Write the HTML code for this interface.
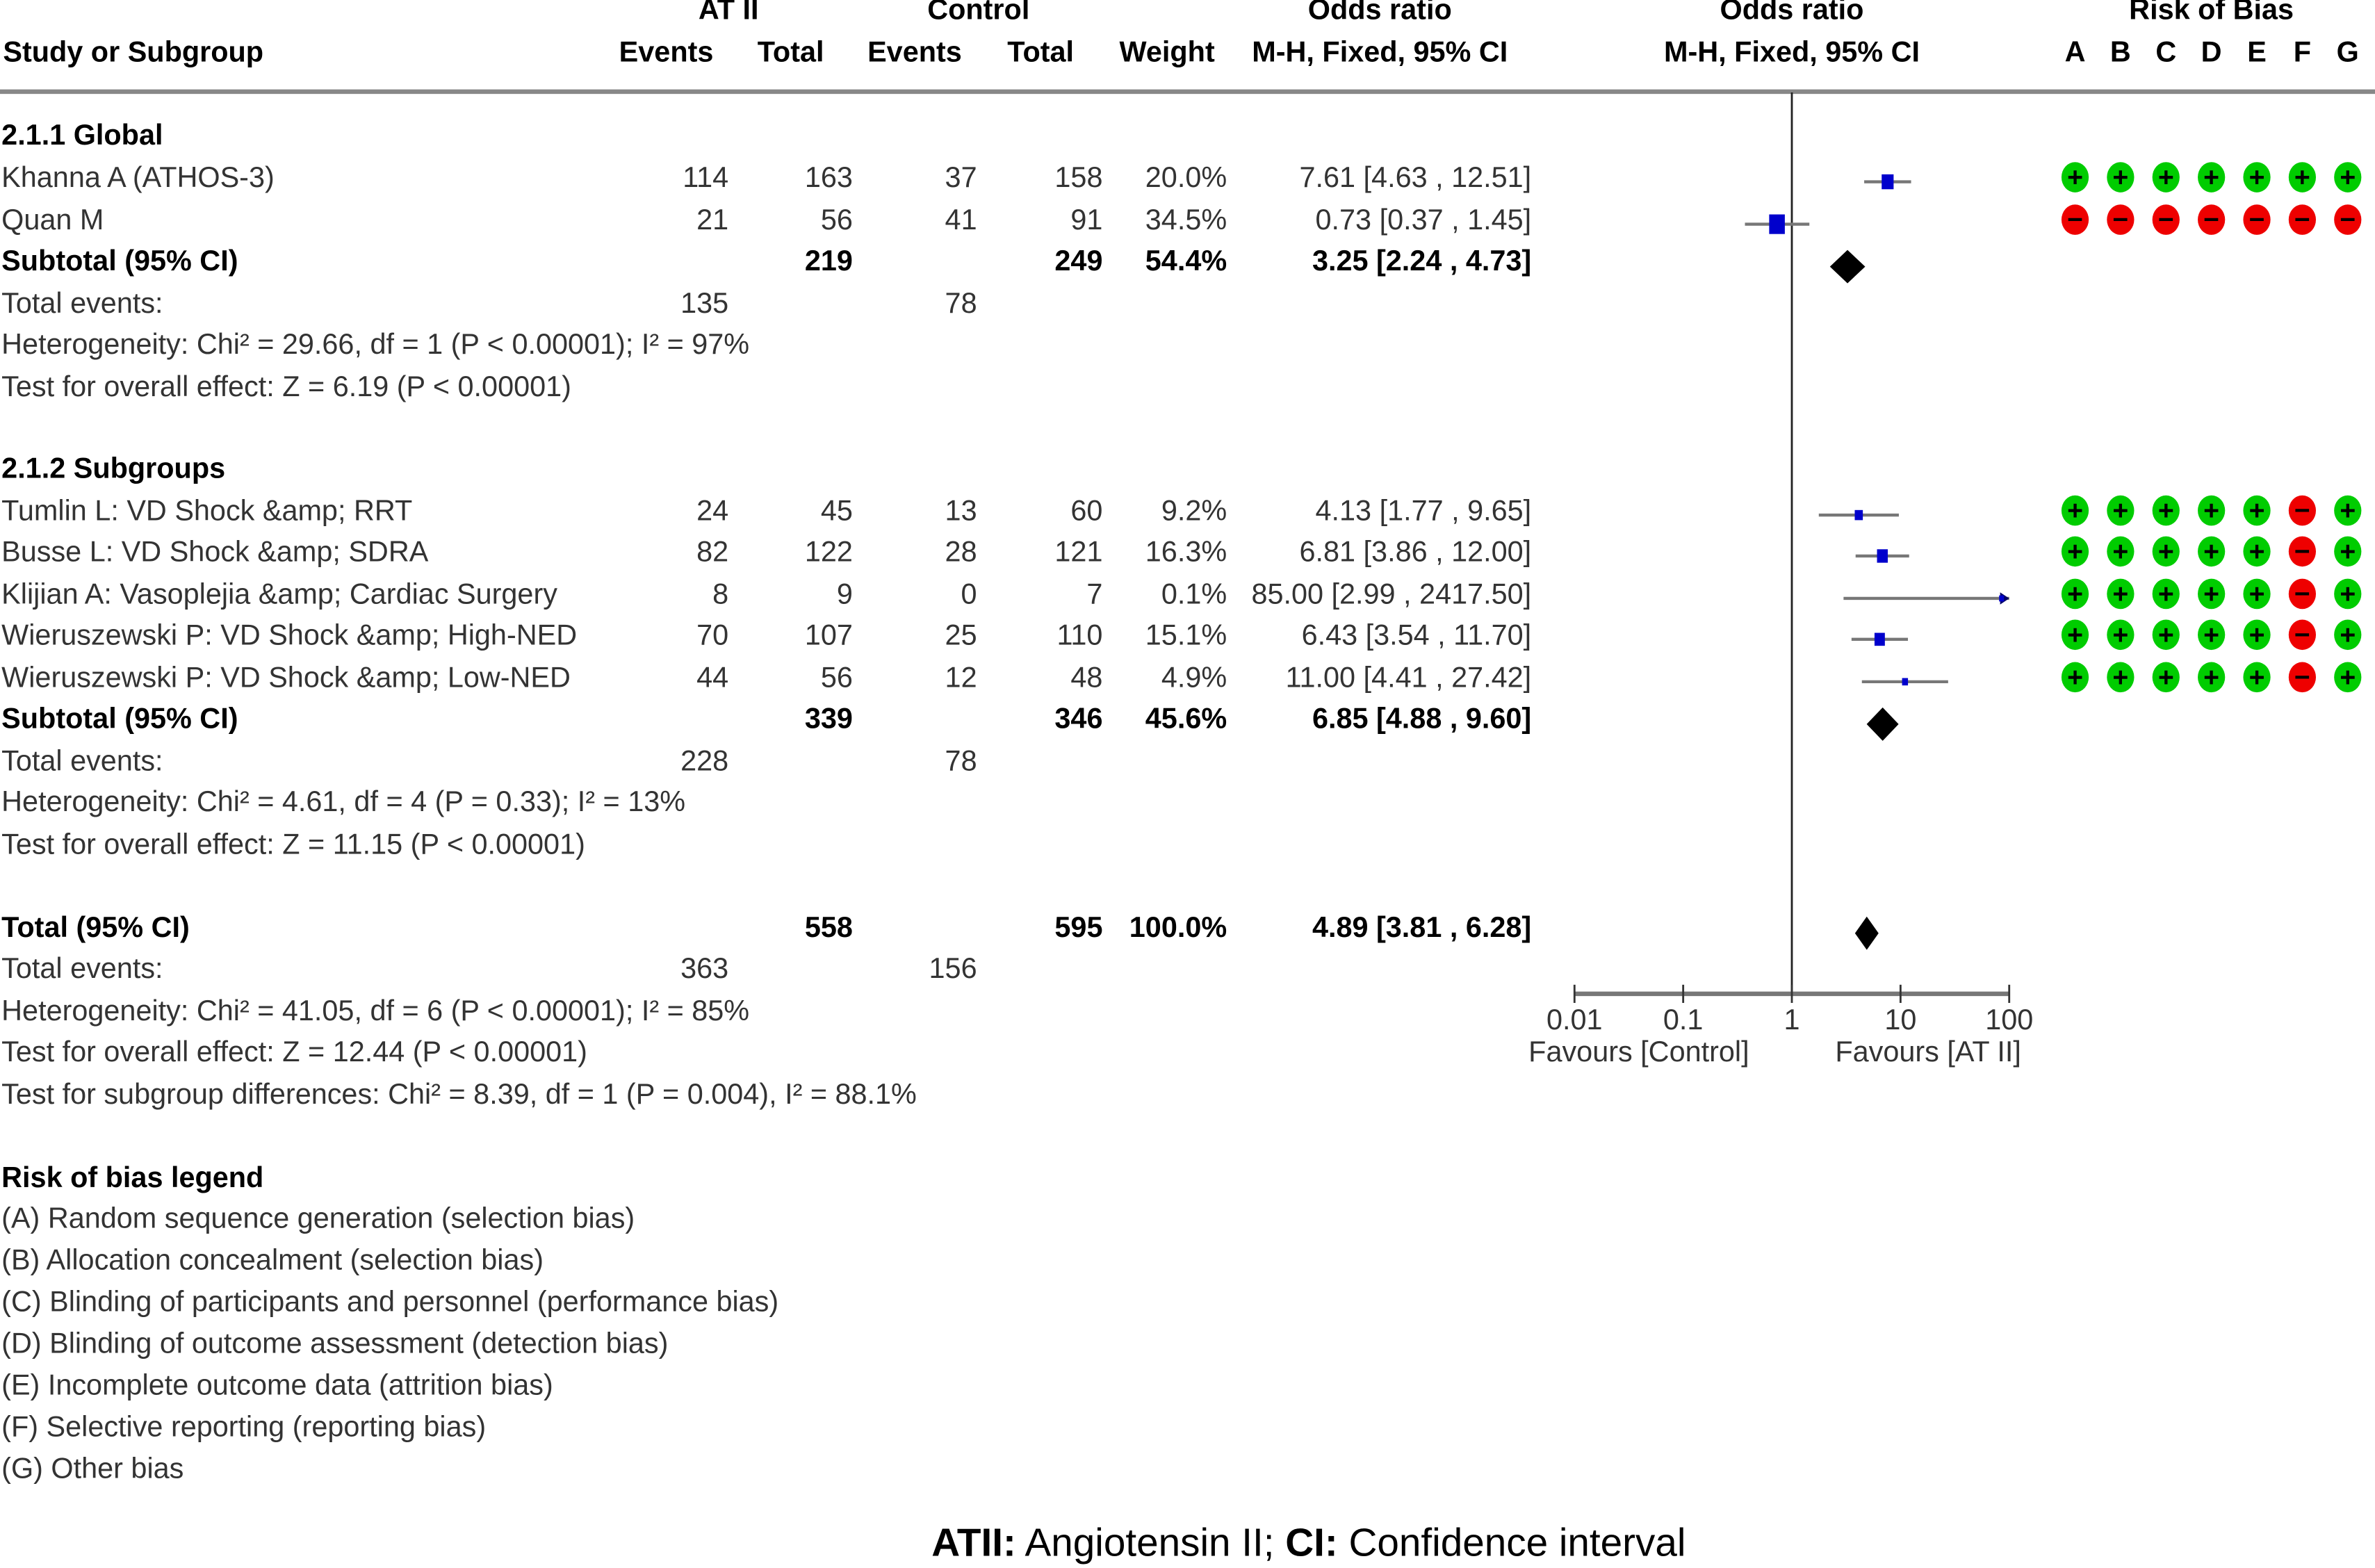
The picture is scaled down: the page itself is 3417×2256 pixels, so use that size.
<!DOCTYPE html>
<html><head><meta charset="utf-8"><style>
html,body{margin:0;padding:0;background:#fff;}
svg{display:block;}
text{font-family:"Liberation Sans",Arial,sans-serif;}
</style></head><body>
<svg id="chart" width="3417" height="2256" viewBox="0 0 1568 1035" preserveAspectRatio="none" xmlns="http://www.w3.org/2000/svg">
<g id="g"></g>
</svg>
<script>
// ---- data ----
const studies = ["Khanna A (ATHOS-3)","Quan M","Tumlin L: VD Shock &amp;amp; RRT","Busse L: VD Shock &amp;amp; SDRA","Klijian A: Vasoplejia &amp;amp; Cardiac Surgery","Wieruszewski P: VD Shock &amp;amp; High-NED","Wieruszewski P: VD Shock &amp;amp; Low-NED"];
const studyRowY = [117,145,337,364,392,419,447];
const atEvents = [114,21,24,82,8,70,44];
const atTotal = [163,56,45,122,9,107,56];
const ctEvents = [37,41,13,28,0,25,12];
const ctTotal = [158,91,60,121,7,110,48];
const weights = [20.0,34.5,9.2,16.3,0.1,15.1,4.9];
const orVal = [7.61,0.73,4.13,6.81,85.00,6.43,11.00];
const orLo = [4.63,0.37,1.77,3.86,2.99,3.54,4.41];
const orHi = [12.51,1.45,9.65,12.00,2417.50,11.70,27.42];
const orLabels = ["7.61 [4.63 , 12.51]","0.73 [0.37 , 1.45]","4.13 [1.77 , 9.65]","6.81 [3.86 , 12.00]","85.00 [2.99 , 2417.50]","6.43 [3.54 , 11.70]","11.00 [4.41 , 27.42]"];
const rob = ["+++++++","-------","+++++-+","+++++-+","+++++-+","+++++-+","+++++-+"];
const pooledNames = ["Subtotal (95% CI)","Subtotal (95% CI)","Total (95% CI)"];
const pooledY = [172,474,612];
const pooledAtTotal = [219,339,558];
const pooledCtTotal = [249,346,595];
const pooledWeight = ["54.4%","45.6%","100.0%"];
const pooledOR = [3.25,6.85,4.89];
const pooledLo = [2.24,4.88,3.81];
const pooledHi = [4.73,9.60,6.28];
const pooledLabels = ["3.25 [2.24 , 4.73]","6.85 [4.88 , 9.60]","4.89 [3.81 , 6.28]"];
const tickVals = [0.01,0.1,1,10,100];
const tickLabels = ["0.01","0.1","1","10","100"];

// ---- axis ----
const X0=1183, DEC=71.75, AXY=656;
const xs = v => X0 + Math.log10(v)*DEC;
const XMIN = xs(0.01), XMAX = xs(100);

const g = document.getElementById('g');
const NS='http://www.w3.org/2000/svg';
function el(tag, attrs, txt){
  const e=document.createElementNS(NS,tag);
  for(const k in attrs) e.setAttribute(k,attrs[k]);
  if(txt!==undefined) e.innerHTML=txt;
  g.appendChild(e); return e;
}
function T(x,y,s,opt){
  opt=opt||{};
  const e=el('text',{x:x,y:y+6.5,'font-size':opt.fs||19,fill:opt.bold?'#000':'#333','font-weight':opt.bold?'bold':'normal','text-anchor':opt.anchor||'start'},s);
  
  
  return e;
}
// headers
T(481,6,"AT II",{bold:1,anchor:'middle',name:'header-at-ii'});
T(646,6,"Control",{bold:1,anchor:'middle',name:'header-control'});
T(911,6,"Odds ratio",{bold:1,anchor:'middle',name:'header-odds-ratio'});
T(1183,6,"Odds ratio",{bold:1,anchor:'middle',name:'header-odds-ratio-plot'});
T(1460,6,"Risk of Bias",{bold:1,anchor:'middle',name:'header-risk-of-bias'});
T(2,34,"Study or Subgroup",{bold:1,name:'header-study'});
T(471,34,"Events",{bold:1,anchor:'end',name:'header-events'});
T(544,34,"Total",{bold:1,anchor:'end',name:'header-total'});
T(635,34,"Events",{bold:1,anchor:'end',name:'header-events'});
T(709,34,"Total",{bold:1,anchor:'end',name:'header-total'});
T(802,34,"Weight",{bold:1,anchor:'end',name:'header-weight'});
T(911,34,"M-H, Fixed, 95% CI",{bold:1,anchor:'middle',name:'header-method'});
T(1183,34,"M-H, Fixed, 95% CI",{bold:1,anchor:'middle',name:'header-method-plot'});
const robX=[1370,1400,1430,1460,1490,1520,1550];
"ABCDEFG".split('').forEach((c,i)=>T(robX[i],34,c,{bold:1,anchor:'middle',name:'rob-column-'+c.toLowerCase()}));
let hl=el('rect',{x:0,y:59,width:1568,height:3,fill:'#888'});



let vl=el('line',{x1:X0,y1:61,x2:X0,y2:AXY,stroke:'#222','stroke-width':1.3});



T(1,89,"2.1.1 Global",{bold:1,name:'subgroup-global'});
T(1,309,"2.1.2 Subgroups",{bold:1,name:'subgroup-subgroups'});
const info=[
 [200,"Total events:",135,78],[227,"Heterogeneity: Chi² = 29.66, df = 1 (P &lt; 0.00001); I² = 97%"],[255,"Test for overall effect: Z = 6.19 (P &lt; 0.00001)"],
 [502,"Total events:",228,78],[529,"Heterogeneity: Chi² = 4.61, df = 4 (P = 0.33); I² = 13%"],[557,"Test for overall effect: Z = 11.15 (P &lt; 0.00001)"],
 [639,"Total events:",363,156],[667,"Heterogeneity: Chi² = 41.05, df = 6 (P &lt; 0.00001); I² = 85%"],[694,"Test for overall effect: Z = 12.44 (P &lt; 0.00001)"],
 [722,"Test for subgroup differences: Chi² = 8.39, df = 1 (P = 0.004), I² = 88.1%"]];
info.forEach(r=>{T(1,r[0],r[1],{name:'stat-text'}); if(r[2]!==undefined){T(481,r[0],r[2],{anchor:'end',name:'events-total'});T(645,r[0],r[3],{anchor:'end',name:'events-total'});}});

function sq(cx,cy,w){
  const s=Math.max(4,Math.sqrt(w)*2.2);
  const r=el('rect',{x:cx-s/2*0.8,y:cy-s/2,width:s*0.8,height:s,fill:'#0000cc'});
  
  
}
studies.forEach((n,i)=>{
  const y=studyRowY[i];
  T(1,y,n,{name:'study-name'});
  T(481,y,atEvents[i],{anchor:'end',name:'at-events'});
  T(563,y,atTotal[i],{anchor:'end',name:'at-total'});
  T(645,y,ctEvents[i],{anchor:'end',name:'control-events'});
  T(728,y,ctTotal[i],{anchor:'end',name:'control-total'});
  T(810,y,weights[i].toFixed(1)+"%",{anchor:'end',name:'weight'});
  T(1011,y,orLabels[i],{anchor:'end',name:'odds-ratio-ci'});
  const cy=y+3;
  const hi=Math.min(xs(orHi[i]),XMAX), lo=Math.max(xs(orLo[i]),XMIN);
  const ci=el('line',{x1:lo,y1:cy,x2:hi,y2:cy,stroke:'#777','stroke-width':2});
  
  
  if(xs(orHi[i])>XMAX){
    const a=el('path',{d:`M${XMAX} ${cy} l-6 -4 v8 z`,fill:'#000066'});
    
    
  }
  if(xs(orVal[i])<=XMAX) sq(xs(orVal[i]),cy,weights[i]);
  rob[i].split('').forEach((c,j)=>{
    const e=el('ellipse',{cx:robX[j],cy:y,rx:9,ry:10,fill:c==='+'?'#00cc00':'#ee0000'});
    
    
    const s=el('text',{x:robX[j],y:y+6,'text-anchor':'middle','font-size':18,'font-weight':'bold',fill:'#000'},c==='+'?'+':'−');
    
    
  });
});
pooledNames.forEach((n,i)=>{
  const y=pooledY[i];
  T(1,y,n,{bold:1,name:'pooled-name'});
  T(563,y,pooledAtTotal[i],{bold:1,anchor:'end',name:'pooled-at-total'});
  T(728,y,pooledCtTotal[i],{bold:1,anchor:'end',name:'pooled-control-total'});
  T(810,y,pooledWeight[i],{bold:1,anchor:'end',name:'pooled-weight'});
  T(1011,y,pooledLabels[i],{bold:1,anchor:'end',name:'pooled-odds-ratio'});
  const cy=y+4, c=xs(pooledOR[i]);
  const lo=Math.min(xs(pooledLo[i]),c-7), hi=Math.max(xs(pooledHi[i]),c+7);
  const d=el('path',{d:`M${lo} ${cy} L${c} ${cy-11} L${hi} ${cy} L${c} ${cy+11} Z`,fill:'#000'});
  
  
});

const ax=el('line',{x1:XMIN,y1:AXY,x2:XMAX,y2:AXY,stroke:'#777','stroke-width':3});


tickVals.forEach((v,i)=>{
  const t=el('line',{x1:xs(v),y1:AXY-6,x2:xs(v),y2:AXY+6,stroke:'#333','stroke-width':1.3});
  
  
  T(xs(v),673,tickLabels[i],{anchor:'middle',name:'x-tick-label'});
});
T(1082,694,"Favours [Control]",{anchor:'middle',name:'favours-control'});
T(1273,694,"Favours [AT II]",{anchor:'middle',name:'favours-at-ii'});

T(1,777,"Risk of bias legend",{bold:1,name:'legend-title'});
["(A) Random sequence generation (selection bias)","(B) Allocation concealment (selection bias)","(C) Blinding of participants and personnel (performance bias)","(D) Blinding of outcome assessment (detection bias)","(E) Incomplete outcome data (attrition bias)","(F) Selective reporting (reporting bias)","(G) Other bias"].forEach((s,i)=>T(1,804+i*27.5,s,{name:'legend-entry'}));

const cap=el('text',{x:864,y:1027,'text-anchor':'middle','font-size':26,fill:'#000'},'<tspan font-weight="bold">ATII:</tspan> Angiotensin II; <tspan font-weight="bold">CI:</tspan> Confidence interval');


</script>
</body></html>
